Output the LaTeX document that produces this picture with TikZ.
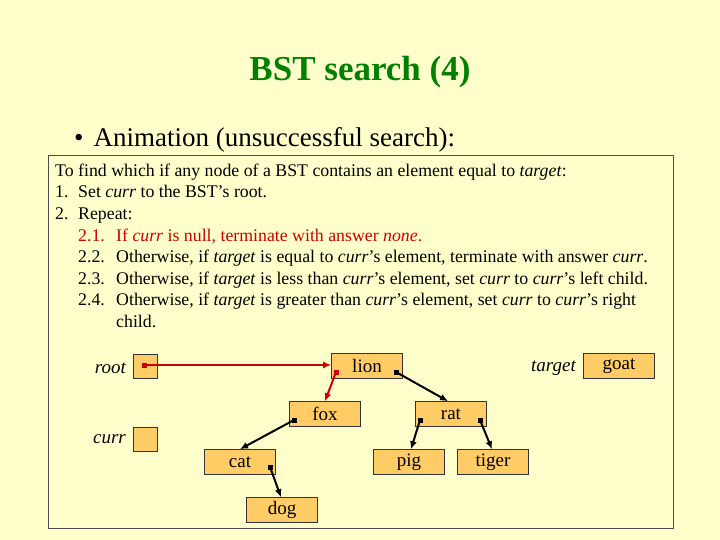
\documentclass[tikz,border=0pt]{standalone}
\usepackage{fontspec}
\setmainfont{Liberation Serif}
\usetikzlibrary{arrows.meta}
\definecolor{bg}{HTML}{FFFFCC}
\definecolor{boxfill}{HTML}{FFCC66}
\definecolor{ttl}{HTML}{008000}
\definecolor{rd}{HTML}{CC0000}
\begin{document}
\begin{tikzpicture}[x=1pt,y=-1pt,
  cell/.style={draw=black!80,fill=boxfill,line width=0.6pt,minimum width=71pt,minimum height=25pt,inner sep=0pt,font=\fontsize{19}{19}\selectfont},
  ptr/.style={draw=black!80,fill=boxfill,line width=0.6pt,minimum width=24pt,minimum height=24pt,inner sep=0pt},
  lbl/.style={font=\fontsize{19}{19}\selectfont\itshape,inner sep=0pt},
  blk/.style={line width=2pt,-{Latex[length=8pt,width=7pt]}},
  red/.style={draw=rd,line width=2pt,-{Latex[length=8pt,width=7pt]}},
  dotb/.style={fill=black,minimum size=5pt,inner sep=0pt},
  dotr/.style={fill=rd,minimum size=5pt,inner sep=0pt},
  txt/.style={anchor=base west,inner sep=0pt,font=\fontsize{17.8}{17.8}\selectfont}]
\useasboundingbox (0,0) rectangle (720,540);
\fill[bg] (0,0) rectangle (720,540);
\node[font=\fontsize{35}{35}\selectfont\bfseries,text=ttl] (title) at (360,72) {BST search (4)};
\node[anchor=west,inner sep=0pt,font=\fontsize{27}{27}\selectfont] (bul) at (74,140) {\textbullet\hspace{10pt}Animation (unsuccessful search):};
\draw[black!70,line width=0.8pt] (48,155) rectangle (673,528);
\node[txt] (l1) at (55,177) {To find which if any node of a BST contains an element equal to \textit{target}:};
\node[txt] (n2) at (55,198) {1.};
\node[txt] (l2) at (78,198) {Set \textit{curr} to the BST’s root.};
\node[txt] (n3) at (55,219) {2.};
\node[txt] (l3) at (78,219) {Repeat:};
\node[txt,text=rd] (n4) at (78,241) {2.1.};
\node[txt,text=rd] (l4) at (116,241) {If \textit{curr} is null, terminate with answer \textit{none}.};
\node[txt] (n5) at (78,262) {2.2.};
\node[txt] (l5) at (116,262) {Otherwise, if \textit{target} is equal to \textit{curr}’s element, terminate with answer \textit{curr}.};
\node[txt] (n6) at (78,284) {2.3.};
\node[txt] (l6) at (116,284) {Otherwise, if \textit{target} is less than \textit{curr}’s element, set \textit{curr} to \textit{curr}’s left child.};
\node[txt] (n7) at (78,305) {2.4.};
\node[txt] (l7) at (116,305) {Otherwise, if \textit{target} is greater than \textit{curr}’s element, set \textit{curr} to \textit{curr}’s right};
\node[txt] (l8) at (116,327) {child.};
% labels
\node[lbl,anchor=east] (rootl) at (126,368) {root};
\node[lbl,anchor=east] (currl) at (126,439) {curr};
\node[lbl,anchor=east] (targl) at (576,368) {target};
\node[ptr] (root) at (145,366) {};
\node[ptr] (curr) at (145,439) {};
\node[cell] (goat) at (619,366) {goat};
\node[cell] (lion) at (367,366) {lion};
\node[cell] (fox) at (325,414) {fox};
\node[cell] (rat) at (451,414) {rat};
\node[cell] (cat) at (240,462) {cat};
\node[cell] (pig) at (409,462) {pig};
\node[cell] (tiger) at (493,462) {tiger};
\node[cell] (dog) at (282,510) {dog};
% pointer dots
\node[dotr] (rp) at (144,365) {};
\node[dotr] (ll) at (336,372) {};
\node[dotb] (lr) at (396,372) {};
\node[dotb] (fl) at (294,420) {};
\node[dotb] (ral) at (420,420) {};
\node[dotb] (rar) at (480,420) {};
\node[dotb] (cr) at (270,467) {};
\draw[red] (rp.center) -- (lion.west |- rp.center);
\draw[red] (ll.center) -- (fox.north);
\draw[blk] (lr.center) -- ([xshift=-3pt]rat.north);
\draw[blk] (fl.center) -- (cat.north);
\draw[blk] (ral.center) -- ([xshift=2pt]pig.north);
\draw[blk] (rar.center) -- ([xshift=-1pt]tiger.north);
\draw[blk] (cr.center) -- ([xshift=-1pt]dog.north);
\end{tikzpicture}
\end{document}
